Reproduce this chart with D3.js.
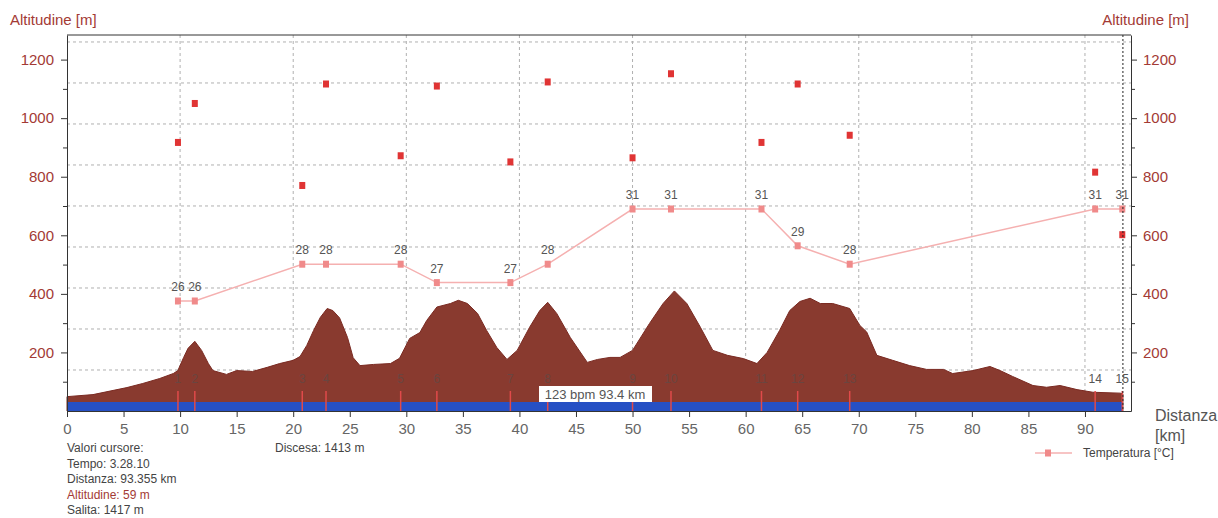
<!DOCTYPE html>
<html><head><meta charset="utf-8">
<script src="https://cdn.jsdelivr.net/npm/d3@7/dist/d3.min.js"></script>
<style>
body{margin:0;background:#fff;}
svg{display:block;font-family:"Liberation Sans",Arial,sans-serif;}
</style></head>
<body><svg id="c" width="1218" height="518"></svg>
<script>
// altitude profile [km, m]
const profileKm = [0,2.3,5.3,6.7,8.2,9.4,9.8,10.3,10.7,11.3,11.9,12.5,12.9,14.1,15.0,16.4,17.7,18.8,20.0,20.6,21.2,21.8,22.4,23.0,23.5,24.1,24.8,25.3,25.9,27.1,28.6,29.4,30.3,31.2,31.8,32.7,33.9,34.6,35.4,36.3,37.1,38.0,38.9,39.8,40.9,41.8,42.5,43.3,44.5,46.0,46.9,48.0,48.9,50.0,51.5,52.7,53.7,54.8,56.0,57.1,58.4,59.8,61.0,61.9,63.0,63.9,64.8,65.7,66.6,67.7,69.2,70.1,70.7,71.6,73.0,74.5,76.0,77.5,78.3,80.1,81.6,82.5,83.6,85.4,86.6,87.8,89.3,90.7,93.1,93.355];
const profileAlt = [49,56,80,94,111,128,138,182,214,238,207,162,138,125,138,135,149,162,173,186,224,275,320,350,343,318,251,182,155,159,162,180,248,268,309,355,367,378,367,333,275,217,176,207,286,343,371,333,251,166,176,183,183,207,299,367,410,367,286,207,190,179,162,200,275,343,374,385,367,367,350,292,270,190,173,155,142,142,128,138,152,138,118,87,81,87,73,64,61,59];
// laps
const lapKm = [9.81,11.3,20.8,22.9,29.5,32.7,39.2,42.5,50.0,53.4,61.4,64.6,69.2,90.9,93.3];
const lapTemp = [26,26,28,28,28,27,27,28,31,31,31,29,28,31,31];
const lapHeartRate = [131,150,110,159.5,124.5,158.5,121.5,160.5,123.5,164.5,131,159.5,134.5,116.5,86];
const lapNames = ["1","2","3","4","5","6","7","8","9","10","11","12","13","14","15"];
const altTicks = [200,400,600,800,1000,1200];
const altMinor = [100,300,500,700,900,1100];
const kmTicks = d3.range(0,95,5);
const kmGrid = [10,20,30,40,50,60,70,80,90];
const hrGrid = [20,40,60,80,100,120,140,160,180];
const cursorKm = 93.355;
const cursorText = ["Valori cursore:","Tempo: 3.28.10","Distanza: 93.355 km","Altitudine: 59 m","Salita: 1417 m"];

const L=67,R=1131,T=35,B=411;
const svg=d3.select("#c");
const x=d3.scaleLinear().domain([0,94.07]).range([L,R]);
const y=d3.scaleLinear().domain([0,1284]).range([B,T]);
const yT=d3.scaleLinear().domain([26,31]).range([301,209]);
const yH=d3.scaleLinear().domain([0,183.4]).range([B,T]);
const darkRed="#a33a35";

// grid
const g=svg.append("g");
g.selectAll(".hg").data(hrGrid).join("line").attr("x1",L).attr("x2",R)
 .attr("y1",d=>yH(d)).attr("y2",d=>yH(d)).attr("stroke","#b0b0b0").attr("stroke-dasharray","3,3");
g.selectAll(".vg").data(kmGrid).join("line").attr("y1",T).attr("y2",B)
 .attr("x1",d=>x(d)).attr("x2",d=>x(d)).attr("stroke","#b0b0b0").attr("stroke-dasharray","3,3");

// profile
const prof=profileKm.map((k,i)=>[k,profileAlt[i]]);
svg.append("path").datum(prof)
 .attr("d",d3.area().x(d=>x(d[0])).y0(y(0)).y1(d=>y(d[1])))
 .attr("fill","#893a2f").attr("stroke","#7a2a22").attr("stroke-width",1);

// blue band
svg.append("rect").attr("x",x(0)).attr("y",402).attr("width",x(cursorKm)-x(0)).attr("height",B-402).attr("fill","#2650c4");

// lap lines
svg.selectAll(".ll").data(lapKm).join("line").attr("x1",d=>x(d)).attr("x2",d=>x(d))
 .attr("y1",391).attr("y2",B).attr("stroke","#e04a4a").attr("stroke-width",1.5);
// lap labels
svg.selectAll(".ln").data(lapKm).join("text").attr("x",d=>x(d)).attr("y",383)
 .attr("text-anchor","middle").attr("font-size",12)
 .attr("fill",(d,i)=>i>=13?"#555":"#6a4540").text((d,i)=>lapNames[i]);

// heart-rate squares
svg.selectAll(".hr").data(lapKm).join("rect").attr("x",d=>x(d)-3).attr("y",(d,i)=>yH(lapHeartRate[i])-3.5)
 .attr("width",6).attr("height",7).attr("fill","#e03434");

// temperature
const tp=lapKm.map((k,i)=>[k,lapTemp[i]]);
svg.append("path").datum(tp).attr("d",d3.line().x(d=>x(d[0])).y(d=>yT(d[1])))
 .attr("fill","none").attr("stroke","#f5b0b0").attr("stroke-width",1.5);
svg.selectAll(".tm").data(tp).join("rect").attr("x",d=>x(d[0])-3).attr("y",d=>yT(d[1])-3.5)
 .attr("width",6).attr("height",7).attr("fill","#f08a8a");
svg.selectAll(".tl").data(tp).join("text").attr("x",d=>x(d[0])).attr("y",d=>yT(d[1])-10)
 .attr("text-anchor","middle").attr("font-size",12).attr("fill","#555").text(d=>d[1]);

// label box
const bx=svg.append("g");
bx.append("rect").attr("x",539).attr("y",386).attr("width",113).attr("height",16).attr("fill","#fff");
bx.append("text").attr("x",595).attr("y",399).attr("text-anchor","middle").attr("font-size",13).attr("fill","#555").text("123 bpm 93.4 km");

// cursor line
svg.append("line").attr("x1",x(cursorKm)).attr("x2",x(cursorKm)).attr("y1",T).attr("y2",B)
 .attr("stroke","#222").attr("stroke-dasharray","2,2");

// frame
svg.append("line").attr("x1",L).attr("x2",R).attr("y1",T).attr("y2",T).attr("stroke","#333");

function style(sel,col){
  sel.select(".domain").attr("stroke","#333");
  sel.selectAll(".tick line").attr("stroke","#333");
  sel.selectAll("text").attr("fill",col).attr("font-size",15).attr("font-family","Liberation Sans, Arial, sans-serif");
}
const fmt=d3.format("d");
const ax1=svg.append("g").attr("transform",`translate(${L},0)`).call(d3.axisLeft(y).tickValues(altTicks).tickFormat(fmt).tickSize(6).tickPadding(7).tickSizeOuter(0));
style(ax1,darkRed);
svg.append("g").attr("transform",`translate(${L},0)`).call(d3.axisLeft(y).tickValues(altMinor).tickSize(4).tickFormat("").tickSizeOuter(0))
 .call(s=>{s.select(".domain").remove();s.selectAll("line").attr("stroke","#333");});
const ax2=svg.append("g").attr("transform",`translate(${R},0)`).call(d3.axisRight(y).tickValues(altTicks).tickFormat(fmt).tickSize(6).tickPadding(6).tickSizeOuter(0));
style(ax2,darkRed);
svg.append("g").attr("transform",`translate(${R},0)`).call(d3.axisRight(y).tickValues(altMinor).tickSize(4).tickFormat("").tickSizeOuter(0))
 .call(s=>{s.select(".domain").remove();s.selectAll("line").attr("stroke","#333");});
const ax3=svg.append("g").attr("transform",`translate(0,${B})`).call(d3.axisBottom(x).tickValues(kmTicks).tickFormat(fmt).tickSize(6).tickPadding(6).tickSizeOuter(0));
style(ax3,"#666");

// axis titles
svg.append("text").attr("x",10).attr("y",25).attr("font-size",15).attr("fill",darkRed).text("Altitudine [m]");
svg.append("text").attr("x",1189).attr("y",25).attr("text-anchor","end").attr("font-size",15).attr("fill",darkRed).text("Altitudine [m]");
svg.append("text").attr("x",1155).attr("y",421).attr("font-size",16).attr("fill","#555").text("Distanza");
svg.append("text").attr("x",1155).attr("y",441).attr("font-size",16).attr("fill","#555").text("[km]");

// cursor values
svg.selectAll(".cv").data(cursorText).join("text").attr("x",L).attr("y",(d,i)=>452+i*15.6)
 .attr("font-size",12).attr("fill",(d,i)=>i===3?darkRed:"#444").text(d=>d);
svg.append("text").attr("x",275).attr("y",452).attr("font-size",12).attr("fill","#444").text("Discesa: 1413 m");

// legend
const lg=svg.append("g");
lg.append("line").attr("x1",1035).attr("x2",1072).attr("y1",453).attr("y2",453).attr("stroke","#f5b0b0").attr("stroke-width",1.5);
lg.append("rect").attr("x",1045).attr("y",449.5).attr("width",6).attr("height",7).attr("fill","#f08a8a");
lg.append("text").attr("x",1083).attr("y",457).attr("font-size",12).attr("fill","#444").text("Temperatura [°C]");
</script></body></html>
